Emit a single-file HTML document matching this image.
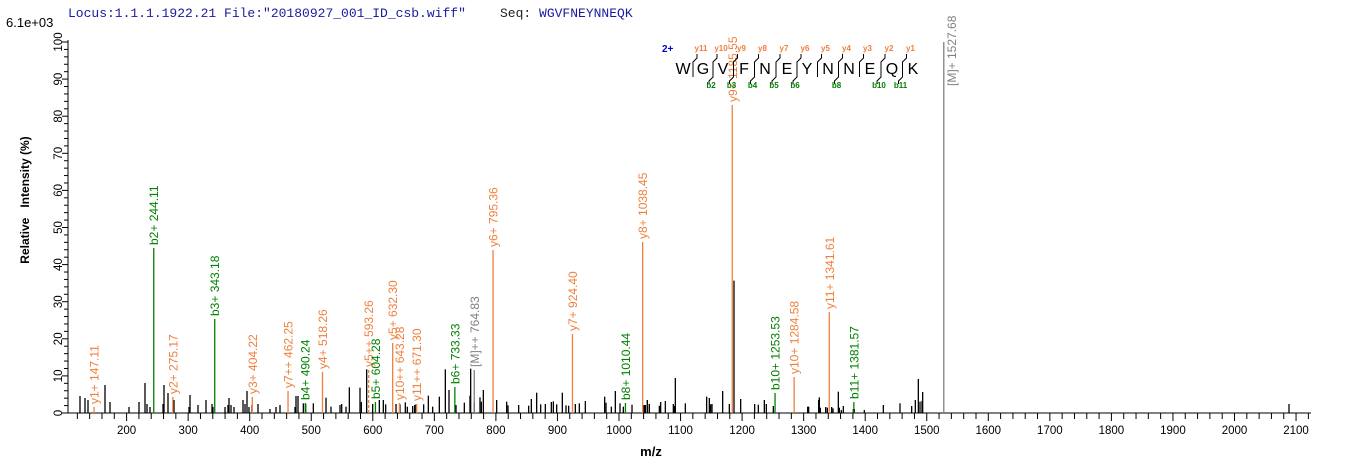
<!DOCTYPE html>
<html><head><meta charset="utf-8"><style>
html,body{margin:0;padding:0;background:#fff;}
svg{display:block;font-family:"Liberation Sans",Arial,sans-serif;}
</style></head><body>
<svg id="s" width="1362" height="473" viewBox="0 0 1362 473" xmlns="http://www.w3.org/2000/svg">
<text x="68" y="17" font-family="Liberation Mono,monospace" font-size="13" fill="#1a1aa0">Locus:1.1.1.1922.21 File:"20180927_001_ID_csb.wiff"</text>
<text x="500" y="17" font-family="Liberation Mono,monospace" font-size="13" fill="#222">Seq: <tspan fill="#1a1aa0">WGVFNEYNNEQK</tspan></text>
<text x="6" y="27" font-size="13" fill="#000">6.1e+03</text>
<text transform="translate(29,200) rotate(-90)" text-anchor="middle" font-size="12" font-weight="bold" fill="#000" xml:space="preserve">Relative   Intensity (%)</text>
<text x="651" y="456" text-anchor="middle" font-size="13" font-weight="bold" fill="#000">m/z</text>
<g id="ax" stroke="#000" stroke-width="1"></g>
<g id="pk"></g>
<g id="seq" font-size="16" fill="#000"></g>
</svg>
<script>
var NS="http://www.w3.org/2000/svg",S=document.getElementById('s');
function el(p,t,a,txt){var e=document.createElementNS(NS,t);for(var k in a)e.setAttribute(k,a[k]);if(txt!=null)e.textContent=txt;p.appendChild(e);return e;}
var ax=document.getElementById('ax'),pk=document.getElementById('pk'),sq=document.getElementById('seq');
var B=413,Y0=42;function X(m){return 3.5+0.6155*m;}
el(ax,'line',{x1:68,y1:B,x2:1311,y2:B});
el(ax,'line',{x1:68,y1:Y0-2,x2:68,y2:B});
for(var v=0;v<=100;v+=2){var y=B-(B-Y0)*v/100;el(ax,'line',{x1:v%10?64:62,y1:y,x2:68,y2:y});
 if(v%10==0)el(S,'text',{transform:'translate(62,'+y+') rotate(-90)','text-anchor':'middle','font-size':'11.5',fill:'#000'},''+v);}
for(var m=120;m<=2120;m+=20){var x=X(m);el(ax,'line',{x1:x,y1:B,x2:x,y2:B+(m%100?6:8)});
 if(m%100==0&&m>=200)el(S,'text',{x:x,y:434,'text-anchor':'middle','font-size':'11.5',fill:'#000'},''+m);}
var bp=[[80,396],[85,398],[88,400],[105,385],[110,402],[129,407],[139,402],[145,383],[147,404],[150,407],[163,404],[164,385],[168,393],[174,400],[190,395],[189,407],[198,405],[206,400],[212,404],[213,407],[225,407],[228,405],[229,398],[231,405],[234,407],[243,400],[245,404],[247,391],[249,407],[252,405],[258,404],[270,409],[276,407],[280,405],[295,407],[298,396]];
var z6=[[18,408],[40,430],[47,432],[70,430],[108,413],[123,440],[150,435],[155,432],[168,440],[178,382],[210,383],[214,426],[230,328],[248,432],[268,420],[280,420],[287,433],[318,432],[330,433],[346,427],[352,440],[368,438],[374,435],[378,433],[401,433],[415,407],[428,440],[448,410],[466,328],[477,390],[498,435],[523,428],[540,407],[542,326],[553,428],[570,412],[574,425],[580,390],[620,420],[650,425],[654,436],[686,435],[716,437],[724,417],[740,398],[752,433],[766,432],[784,426],[790,424],[800,433],[817,398],[828,436],[836,437],[856,432],[868,430],[886,423],[944,410],[948,428],[964,440],[976,393],[990,430],[1000,440],[1026,434],[1062,437],[1066,435],[1072,420],[1078,432]];
z6.forEach(function(p){bp.push([290+p[0]/3,260+p[1]/3]);});
var z7=[[12,435],[15,435],[22,420],[28,432],[58,437],[62,426],[76,423],[100,432],[103,438],[106,354],[136,430],[200,410],[208,414],[212,433],[216,432],[248,393],[268,432],[282,62],[302,417],[344,432],[355,434],[373,420],[379,432],[400,438],[503,440],[506,440],[536,420],[538,412],[541,443],[557,441],[562,443],[575,441],[579,445],[595,395],[598,443],[604,450],[610,438],[640,447],[643,447],[673,450],[730,435],[780,430],[815,438],[826,420],[835,357],[840,425],[846,423],[848,396]];
z7.forEach(function(p){bp.push([640+p[0]/3,260+p[1]/3]);});
bp.push([1289,404]);
bp.forEach(function(p){el(pk,'line',{x1:p[0],y1:B,x2:p[0],y2:p[1],stroke:'#000','stroke-width':1.3});});
var O='#f07f3c',G='#008000',GR='#808080';
var lp=[['y1+ 147.11',147.11,407,O],['b2+ 244.11',244.11,248,G],['y2+ 275.17',275.17,397,O],['b3+ 343.18',343.18,319,G],['y3+ 404.22',404.22,397,O],['y7++ 462.25',462.25,391,O],['b4+ 490.24',490.24,403,G],['y4+ 518.26',518.26,372,O],['y5++ 593.26',593.26,370,O,1],['b5+ 604.28',604.28,402,G],['y5+ 632.30',632.30,343,O],['y10++ 643.28',643.28,403,O],['y11++ 671.30',671.30,404,O],['b6+ 733.33',733.33,387,G],['[M]++ 764.83',764.83,370,GR],['y6+ 795.36',795.36,250,O],['y7+ 924.40',924.40,334,O],['b8+ 1010.44',1010.44,403,G],['y8+ 1038.45',1038.45,242,O],['y9+ 1185.55',1184.0,105,O],['b10+ 1253.53',1253.53,393,G],['y10+ 1284.58',1284.58,377,O],['y11+ 1341.61',1341.61,312,O],['b11+ 1381.57',1381.57,402,G]];
lp.forEach(function(p){var x=X(p[1]);var a={x1:x,y1:B,x2:x,y2:p[2],stroke:p[3],'stroke-width':1.3};if(p[4])a['stroke-dasharray']='3,2';el(pk,'line',a);
 el(pk,'text',{transform:'translate('+(x+4.5)+','+(p[2]-3)+') rotate(-90)','font-size':'12',fill:p[3]},p[0]);});
var mx=X(1527.68);el(pk,'line',{x1:mx,y1:B,x2:mx,y2:Y0,stroke:GR,'stroke-width':1.3});
el(pk,'text',{transform:'translate('+(mx+12)+',86) rotate(-90)','font-size':'12',fill:GR},'[M]+ 1527.68');
var L='WGVFNEYNNEQK'.split(''),lx=[683,703,723,744,765,787,807,828,849,870,892,913];
el(sq,'text',{x:662,y:52,'font-size':'10','font-weight':'bold',fill:'#0000cc'},'2+');
L.forEach(function(c,i){el(sq,'text',{x:lx[i],y:74,'text-anchor':'middle'},c);});
var yl=['y11','y10','y9','y8','y7','y6','y5','y4','y3','y2','y1'],bl={1:'b2',2:'b3',3:'b4',4:'b5',5:'b6',7:'b8',9:'b10',10:'b11'};
for(var i=0;i<11;i++){var sx=(lx[i]+lx[i+1])/2;
 el(sq,'path',{d:'M'+(sx+4)+',54 L'+(sx+4)+',58 L'+sx+',62 L'+sx+',77 '+(bl[i]?'L'+(sx-4)+',81 L'+(sx-4)+',84':''),fill:'none',stroke:'#000','stroke-width':1});
 el(sq,'text',{x:sx+8,y:51,'font-size':'8','text-anchor':'middle',fill:O,'font-weight':'bold'},yl[i]);
 if(bl[i])el(sq,'text',{x:sx-2,y:88,'font-size':'8','text-anchor':'middle',fill:G,'font-weight':'bold'},bl[i]);}
</script>
</body></html>
